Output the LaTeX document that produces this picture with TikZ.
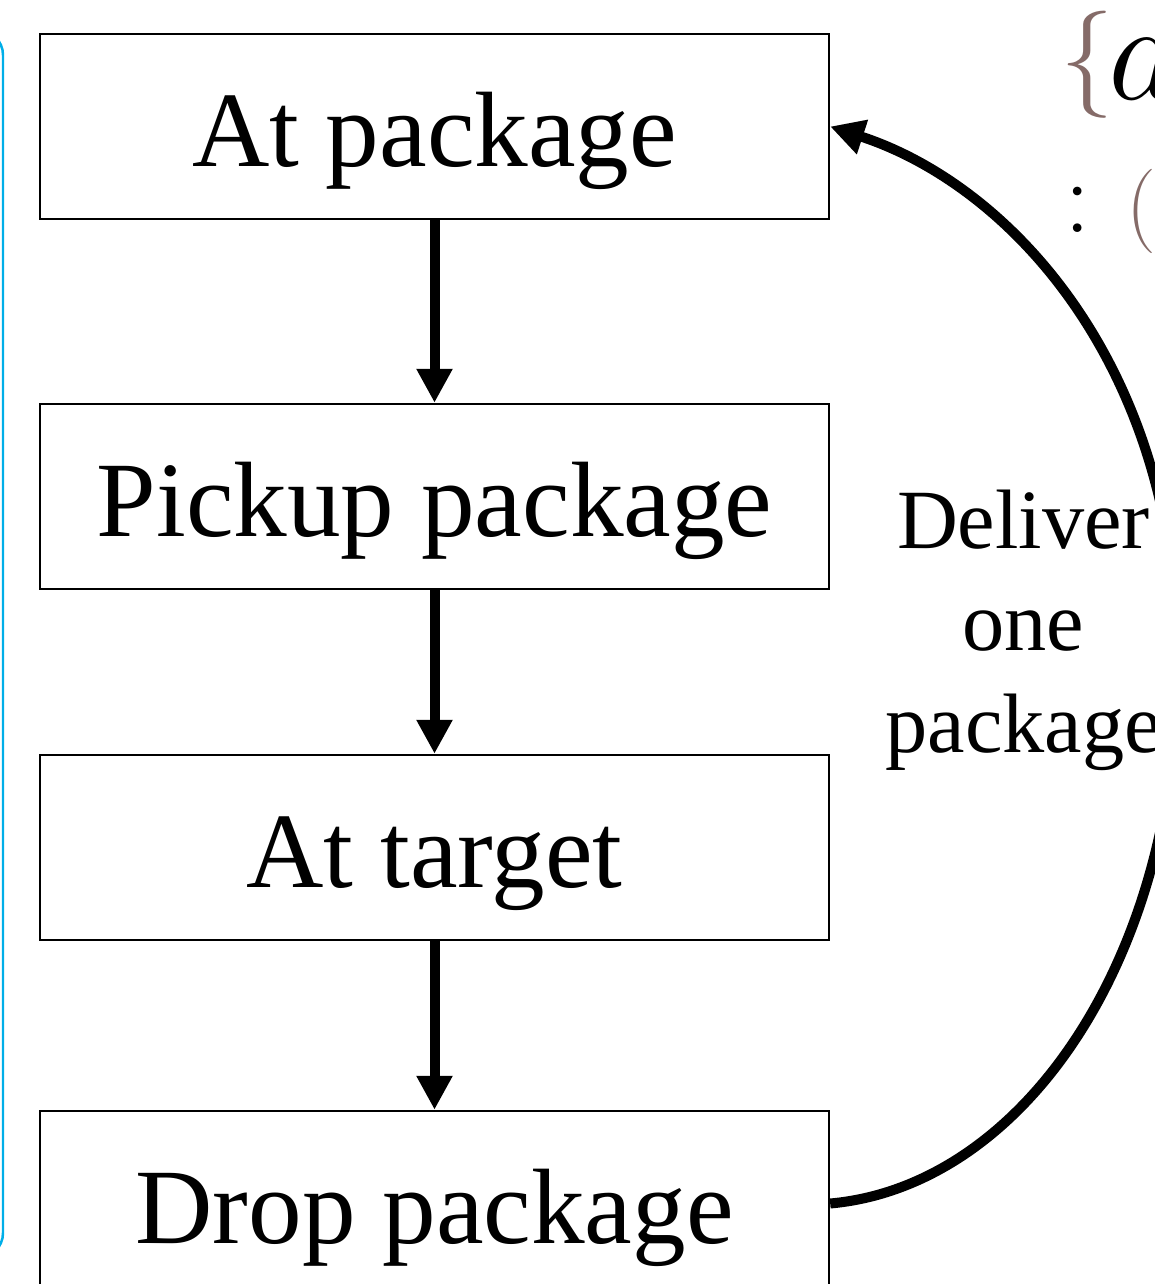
\RequirePackage{fix-cm}
\documentclass[tikz,border=0pt]{standalone}
\usepackage{fontspec}
\setmainfont{Liberation Serif}
\usetikzlibrary{arrows.meta}
\definecolor{cyanline}{RGB}{0,174,232}
\definecolor{brn}{RGB}{133,107,104}
\begin{document}
\begin{tikzpicture}[x=0.02cm,y=-0.02cm,
  state/.style={draw=black, line width=0.05cm, minimum width=15.78cm, minimum height=3.7cm,
    inner sep=0pt, text height=1.6cm, text depth=0pt, font=\fontsize{61}{61}\selectfont},
  flow/.style={line width=0.2cm, -{Triangle[length=0.68cm,width=0.68cm]}},
  lbl/.style={font=\fontsize{48}{58}\selectfont, align=center, inner sep=0pt}
]
\useasboundingbox (0,0) rectangle (1155,1284);
\draw[cyanline, line width=0.05cm, rounded corners=0.5cm] (-300,30) rectangle (3,1258);

\node[state] (atpkg)  at (434.5,126.5)  {At package};
\node[state] (pickup) at (434.5,496.5)  {Pickup package};
\node[state] (attgt)  at (434.5,847.5)  {At target};
\node[state] (drop)   at (434.5,1203.5) {Drop package};

\draw[flow] (atpkg) -- (pickup);
\draw[flow] (pickup) -- (attgt);
\draw[flow] (attgt) -- (drop);

\coordinate (bulge) at (1178,662);
\draw[flow] (drop.east) .. controls +(191,-17) and +(0,300) .. (bulge)
  .. controls +(0,-295) and +(181,59) .. (atpkg.east);

\node[lbl] (deliver) at (1023.5,630.5) {Deliver\\one\\package};

\node[anchor=base west, inner sep=0pt] (seta) at (1060,100)
  {{\color{brn}\fontsize{61}{61}\selectfont\raisebox{0.18cm}{$\{$}}\kern-0.1cm{\fontsize{80}{80}\selectfont$a$}};
\node[anchor=base west, inner sep=0pt] (colon) at (1064,233)
  {{\fontsize{60}{60}\selectfont$:$}\hspace{0.72cm}{\color{brn}\fontsize{48}{48}\selectfont$($}};
\end{tikzpicture}
\end{document}
